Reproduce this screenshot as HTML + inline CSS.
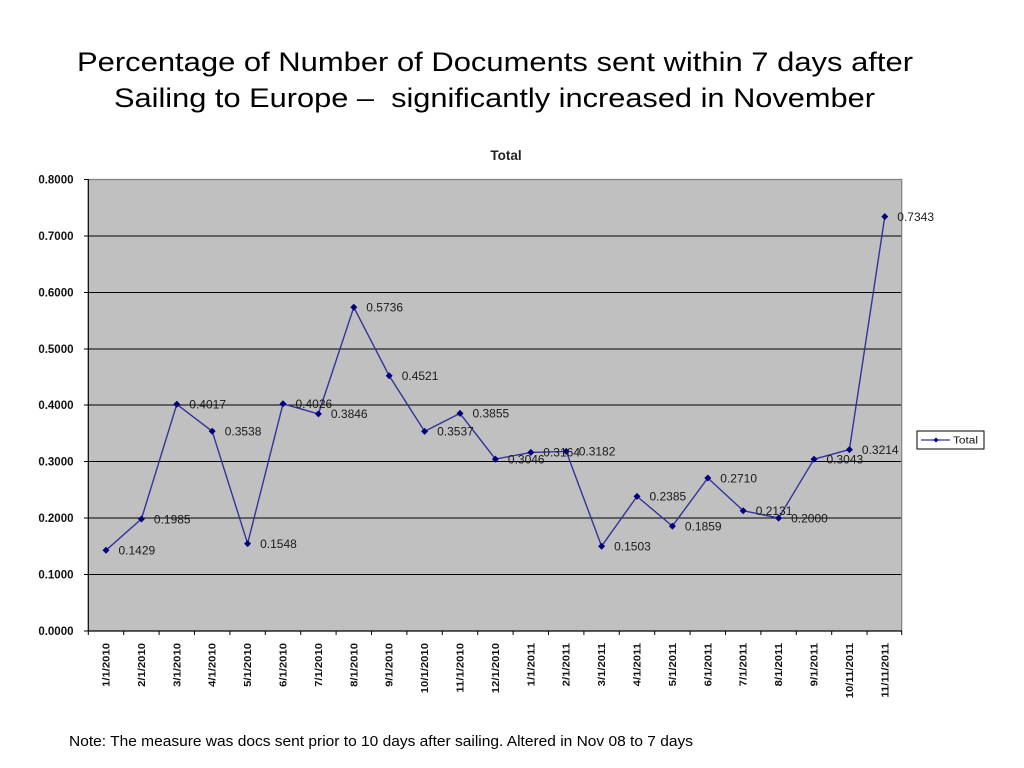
<!DOCTYPE html>
<html>
<head>
<meta charset="utf-8">
<style>
html,body{margin:0;padding:0;background:#fff;}
svg{display:block;}
</style>
</head>
<body>
<svg width="1024" height="768" viewBox="0 0 1024 768" xmlns="http://www.w3.org/2000/svg">
  <rect x="0" y="0" width="1024" height="768" fill="#ffffff"/>
  <!-- Title -->
  <text x="77" y="71" font-family="Liberation Sans, sans-serif" font-size="27" fill="#000" textLength="836" lengthAdjust="spacingAndGlyphs">Percentage of Number of Documents sent within 7 days after</text>
  <text x="114" y="107" font-family="Liberation Sans, sans-serif" font-size="27" fill="#000" textLength="761" lengthAdjust="spacingAndGlyphs" xml:space="preserve">Sailing to Europe –  significantly increased in November</text>

  <!-- Chart title -->
  <text x="506" y="160" text-anchor="middle" font-family="Liberation Sans, sans-serif" font-size="13.5" font-weight="bold" fill="#222">Total</text>

  <!-- Plot area -->
  <rect x="88.3" y="179.5" width="813.4" height="451.5" fill="#c0c0c0"/>
  <g stroke="#000" stroke-width="1">
    <line x1="88.3" y1="236" x2="901.7" y2="236"/>
    <line x1="88.3" y1="292.5" x2="901.7" y2="292.5"/>
    <line x1="88.3" y1="349" x2="901.7" y2="349"/>
    <line x1="88.3" y1="405" x2="901.7" y2="405"/>
    <line x1="88.3" y1="461.5" x2="901.7" y2="461.5"/>
    <line x1="88.3" y1="518" x2="901.7" y2="518"/>
    <line x1="88.3" y1="574.5" x2="901.7" y2="574.5"/>
  </g>
  <polyline points="88.3,179.5 901.7,179.5 901.7,631" fill="none" stroke="#808080" stroke-width="1.2"/>
  <line x1="88.3" y1="179" x2="88.3" y2="631.5" stroke="#000" stroke-width="1.2"/>
  <line x1="88" y1="631" x2="902" y2="631" stroke="#000" stroke-width="1.2"/>

  <!-- y ticks -->
  <g stroke="#000" stroke-width="1">
    <line x1="84" y1="179.5" x2="88.3" y2="179.5"/>
    <line x1="84" y1="236" x2="88.3" y2="236"/>
    <line x1="84" y1="292.5" x2="88.3" y2="292.5"/>
    <line x1="84" y1="349" x2="88.3" y2="349"/>
    <line x1="84" y1="405" x2="88.3" y2="405"/>
    <line x1="84" y1="461.5" x2="88.3" y2="461.5"/>
    <line x1="84" y1="518" x2="88.3" y2="518"/>
    <line x1="84" y1="574.5" x2="88.3" y2="574.5"/>
    <line x1="84" y1="631" x2="88.3" y2="631"/>
  </g>
  <g font-family="Liberation Sans, sans-serif" font-size="11.5" font-weight="bold" fill="#111" text-anchor="end">
    <text x="73.5" y="183.7">0.8000</text>
    <text x="73.5" y="240.2">0.7000</text>
    <text x="73.5" y="296.7">0.6000</text>
    <text x="73.5" y="353.2">0.5000</text>
    <text x="73.5" y="409.2">0.4000</text>
    <text x="73.5" y="465.7">0.3000</text>
    <text x="73.5" y="522.2">0.2000</text>
    <text x="73.5" y="578.7">0.1000</text>
    <text x="73.5" y="635.2">0.0000</text>
  </g>

  <!-- x ticks -->
  <g stroke="#000" stroke-width="1">
    <line x1="88.3" y1="631" x2="88.3" y2="635"/>
    <line x1="123.7" y1="631" x2="123.7" y2="635"/>
    <line x1="159.1" y1="631" x2="159.1" y2="635"/>
    <line x1="194.5" y1="631" x2="194.5" y2="635"/>
    <line x1="229.9" y1="631" x2="229.9" y2="635"/>
    <line x1="265.3" y1="631" x2="265.3" y2="635"/>
    <line x1="300.7" y1="631" x2="300.7" y2="635"/>
    <line x1="336.1" y1="631" x2="336.1" y2="635"/>
    <line x1="371.5" y1="631" x2="371.5" y2="635"/>
    <line x1="406.9" y1="631" x2="406.9" y2="635"/>
    <line x1="442.3" y1="631" x2="442.3" y2="635"/>
    <line x1="477.7" y1="631" x2="477.7" y2="635"/>
    <line x1="513.1" y1="631" x2="513.1" y2="635"/>
    <line x1="548.5" y1="631" x2="548.5" y2="635"/>
    <line x1="583.9" y1="631" x2="583.9" y2="635"/>
    <line x1="619.3" y1="631" x2="619.3" y2="635"/>
    <line x1="654.7" y1="631" x2="654.7" y2="635"/>
    <line x1="690.1" y1="631" x2="690.1" y2="635"/>
    <line x1="725.5" y1="631" x2="725.5" y2="635"/>
    <line x1="760.9" y1="631" x2="760.9" y2="635"/>
    <line x1="796.3" y1="631" x2="796.3" y2="635"/>
    <line x1="831.7" y1="631" x2="831.7" y2="635"/>
    <line x1="867.1" y1="631" x2="867.1" y2="635"/>
    <line x1="901.7" y1="631" x2="901.7" y2="635"/>
  </g>

  <!-- x labels -->
  <g font-family="Liberation Sans, sans-serif" font-size="10" font-weight="bold" fill="#111" text-anchor="end">
    <text transform="translate(109.5,643) rotate(-90) scale(1.13,1)">1/1/2010</text>
    <text transform="translate(144.9,643) rotate(-90) scale(1.13,1)">2/1/2010</text>
    <text transform="translate(180.3,643) rotate(-90) scale(1.13,1)">3/1/2010</text>
    <text transform="translate(215.7,643) rotate(-90) scale(1.13,1)">4/1/2010</text>
    <text transform="translate(251.1,643) rotate(-90) scale(1.13,1)">5/1/2010</text>
    <text transform="translate(286.5,643) rotate(-90) scale(1.13,1)">6/1/2010</text>
    <text transform="translate(321.9,643) rotate(-90) scale(1.13,1)">7/1/2010</text>
    <text transform="translate(357.3,643) rotate(-90) scale(1.13,1)">8/1/2010</text>
    <text transform="translate(392.7,643) rotate(-90) scale(1.13,1)">9/1/2010</text>
    <text transform="translate(428.1,643) rotate(-90) scale(1.13,1)">10/1/2010</text>
    <text transform="translate(463.5,643) rotate(-90) scale(1.13,1)">11/1/2010</text>
    <text transform="translate(498.9,643) rotate(-90) scale(1.13,1)">12/1/2010</text>
    <text transform="translate(534.3,643) rotate(-90) scale(1.13,1)">1/1/2011</text>
    <text transform="translate(569.7,643) rotate(-90) scale(1.13,1)">2/1/2011</text>
    <text transform="translate(605.1,643) rotate(-90) scale(1.13,1)">3/1/2011</text>
    <text transform="translate(640.5,643) rotate(-90) scale(1.13,1)">4/1/2011</text>
    <text transform="translate(675.9,643) rotate(-90) scale(1.13,1)">5/1/2011</text>
    <text transform="translate(711.3,643) rotate(-90) scale(1.13,1)">6/1/2011</text>
    <text transform="translate(746.7,643) rotate(-90) scale(1.13,1)">7/1/2011</text>
    <text transform="translate(782.1,643) rotate(-90) scale(1.13,1)">8/1/2011</text>
    <text transform="translate(817.5,643) rotate(-90) scale(1.13,1)">9/1/2011</text>
    <text transform="translate(852.9,643) rotate(-90) scale(1.13,1)">10/11/2011</text>
    <text transform="translate(888.3,643) rotate(-90) scale(1.13,1)">11/11/2011</text>
  </g>

  <!-- Series line -->
  <polyline fill="none" stroke="#33339a" stroke-width="1.4" stroke-linejoin="round"
    points="106.0,550.3 141.4,519.0 176.8,404.3 212.2,431.3 247.6,543.6 283.0,403.8 318.4,413.9 353.8,307.3 389.2,375.8 424.6,431.4 460.0,413.4 495.4,459.1 530.8,452.4 566.2,451.4 601.6,546.2 637.0,496.4 672.4,526.1 707.8,478.0 743.2,510.7 778.6,518.1 814.0,459.2 849.4,449.6 884.8,216.6"/>

  <!-- Markers -->
  <g fill="#000080">
    <polygon points="106.0,546.8 109.5,550.3 106.0,553.8 102.5,550.3"/>
    <polygon points="141.4,515.5 144.9,519.0 141.4,522.5 137.9,519.0"/>
    <polygon points="176.8,400.8 180.3,404.3 176.8,407.8 173.3,404.3"/>
    <polygon points="212.2,427.8 215.7,431.3 212.2,434.8 208.7,431.3"/>
    <polygon points="247.6,540.1 251.1,543.6 247.6,547.1 244.1,543.6"/>
    <polygon points="283.0,400.3 286.5,403.8 283.0,407.3 279.5,403.8"/>
    <polygon points="318.4,410.4 321.9,413.9 318.4,417.4 314.9,413.9"/>
    <polygon points="353.8,303.8 357.3,307.3 353.8,310.8 350.3,307.3"/>
    <polygon points="389.2,372.3 392.7,375.8 389.2,379.3 385.7,375.8"/>
    <polygon points="424.6,427.9 428.1,431.4 424.6,434.9 421.1,431.4"/>
    <polygon points="460.0,409.9 463.5,413.4 460.0,416.9 456.5,413.4"/>
    <polygon points="495.4,455.6 498.9,459.1 495.4,462.6 491.9,459.1"/>
    <polygon points="530.8,448.9 534.3,452.4 530.8,455.9 527.3,452.4"/>
    <polygon points="566.2,447.9 569.7,451.4 566.2,454.9 562.7,451.4"/>
    <polygon points="601.6,542.7 605.1,546.2 601.6,549.7 598.1,546.2"/>
    <polygon points="637.0,492.9 640.5,496.4 637.0,499.9 633.5,496.4"/>
    <polygon points="672.4,522.6 675.9,526.1 672.4,529.6 668.9,526.1"/>
    <polygon points="707.8,474.5 711.3,478.0 707.8,481.5 704.3,478.0"/>
    <polygon points="743.2,507.2 746.7,510.7 743.2,514.2 739.7,510.7"/>
    <polygon points="778.6,514.6 782.1,518.1 778.6,521.6 775.1,518.1"/>
    <polygon points="814.0,455.7 817.5,459.2 814.0,462.7 810.5,459.2"/>
    <polygon points="849.4,446.1 852.9,449.6 849.4,453.1 845.9,449.6"/>
    <polygon points="884.8,213.1 888.3,216.6 884.8,220.1 881.3,216.6"/>
  </g>

  <!-- Data labels -->
  <g font-family="Liberation Sans, sans-serif" font-size="12" fill="#1a1a1a">
    <text x="118.5" y="554.6">0.1429</text>
    <text x="153.9" y="523.3">0.1985</text>
    <text x="189.3" y="408.6">0.4017</text>
    <text x="224.7" y="435.6">0.3538</text>
    <text x="260.1" y="547.9">0.1548</text>
    <text x="295.5" y="408.1">0.4026</text>
    <text x="330.9" y="418.2">0.3846</text>
    <text x="366.3" y="311.6">0.5736</text>
    <text x="401.7" y="380.1">0.4521</text>
    <text x="437.1" y="435.7">0.3537</text>
    <text x="472.5" y="417.7">0.3855</text>
    <text x="507.9" y="463.4">0.3046</text>
    <text x="543.3" y="456.7">0.3164</text>
    <text x="578.7" y="455.7">0.3182</text>
    <text x="614.1" y="550.5">0.1503</text>
    <text x="649.5" y="500.7">0.2385</text>
    <text x="684.9" y="530.4">0.1859</text>
    <text x="720.3" y="482.3">0.2710</text>
    <text x="755.7" y="515.0">0.2131</text>
    <text x="791.1" y="522.4">0.2000</text>
    <text x="826.5" y="463.5">0.3043</text>
    <text x="861.9" y="453.9">0.3214</text>
    <text x="897.3" y="220.9">0.7343</text>
  </g>

  <!-- Legend -->
  <rect x="917" y="431" width="67" height="18" fill="#fff" stroke="#000" stroke-width="1"/>
  <line x1="921" y1="440" x2="950" y2="440" stroke="#33339a" stroke-width="1.3"/>
  <polygon points="936,437.5 938.5,440 936,442.5 933.5,440" fill="#000080"/>
  <text x="953" y="443.5" font-family="'Liberation Sans', sans-serif" font-size="10" fill="#111" textLength="25" lengthAdjust="spacingAndGlyphs">Total</text>

  <!-- Note -->
  <text x="69" y="746" font-family="Liberation Sans, sans-serif" font-size="14.5" fill="#000" textLength="624" lengthAdjust="spacingAndGlyphs">Note: The measure was docs sent prior to 10 days after sailing. Altered in Nov 08 to 7 days</text>
</svg>
</body>
</html>
